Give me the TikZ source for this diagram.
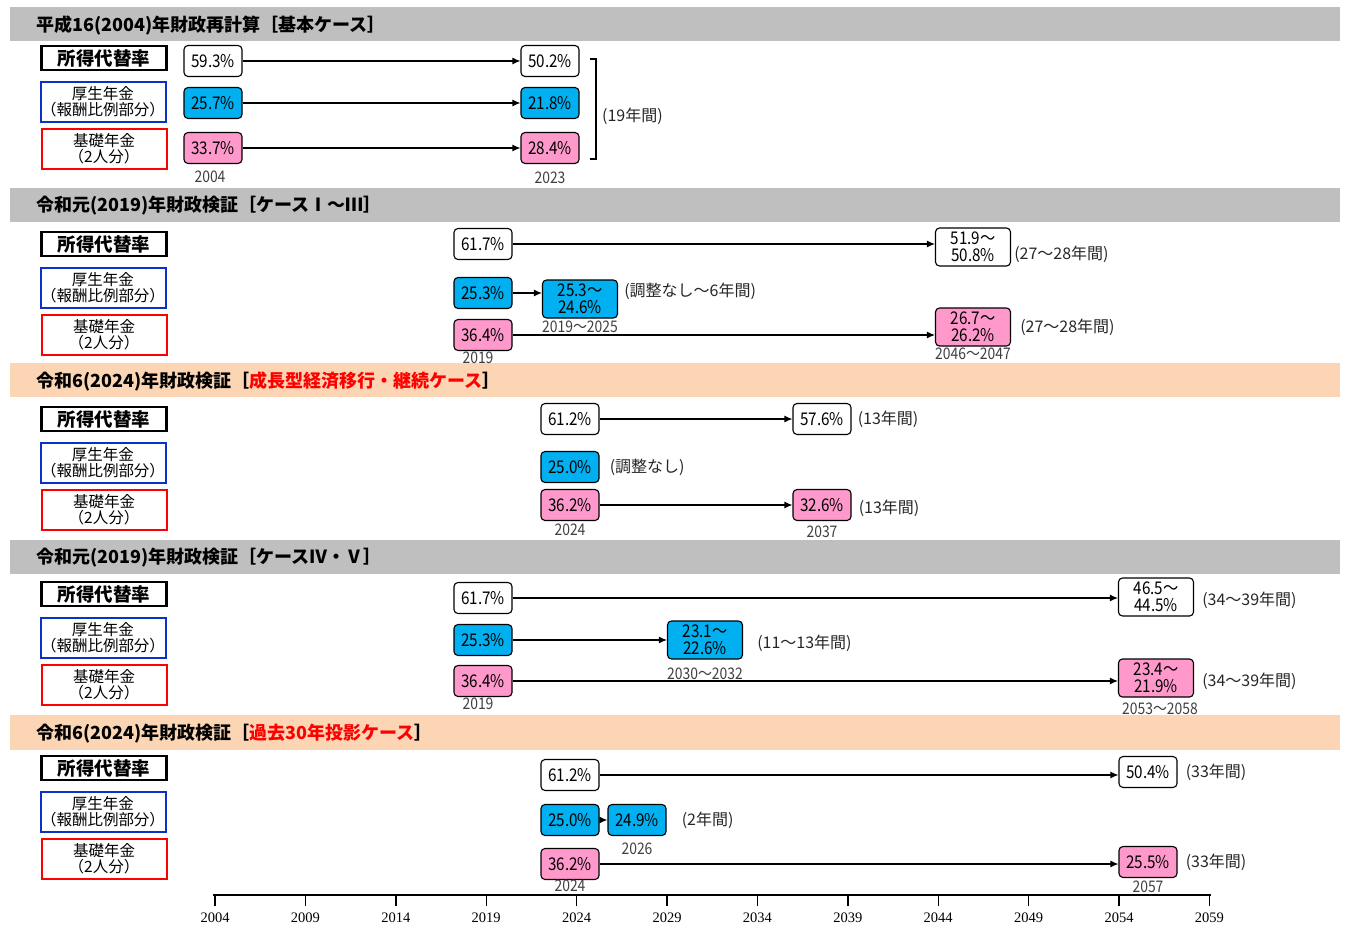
\documentclass[tikz,border=0pt]{standalone}
\usepackage{fontspec}
\setmainfont{Noto Sans CJK JP}
\newfontfamily\valfont{Noto Sans CJK JP}[FakeStretch=0.87]
\newfontfamily\axisfont{Liberation Serif}
\usepackage{tikz}
\usetikzlibrary{positioning,arrows.meta}
\definecolor{bandgray}{HTML}{BFBFBF}
\definecolor{bandpeach}{HTML}{FCD5B4}
\definecolor{koseiblue}{HTML}{00B0F0}
\definecolor{kisopink}{HTML}{FF99CC}
\definecolor{lblblue}{HTML}{0A32C8}
\definecolor{yeargray}{HTML}{404040}
\tikzset{
  line/.style={-{Latex[length=8pt,width=7pt]}, line width=1.2pt},
  title/.style={anchor=west, inner sep=0pt, font=\fontsize{18}{20}\selectfont\bfseries},
  lbl/.style={draw, align=center, inner sep=0pt, minimum width=125pt, font=\fontsize{15.5}{16}\selectfont},
  rlbl/.style={lbl, line width=2.4pt, minimum height=24pt, font=\fontsize{18.5}{19}\selectfont\bfseries},
  klbl/.style={lbl, draw=lblblue, line width=2pt, minimum height=40pt},
  blbl/.style={lbl, draw=red, line width=2pt, minimum height=40pt},
  val/.style={draw, rounded corners=4pt, line width=1.1pt, align=center, inner sep=1pt,
    minimum width=58pt, minimum height=31pt, font=\valfont\fontsize{17.5}{17}\selectfont},
  val2/.style={val, minimum width=75pt, minimum height=38pt},
  kv/.style={fill=koseiblue},
  bv/.style={fill=kisopink},
  note/.style={inner sep=0pt, text=black!85, font=\fontsize{16}{18}\selectfont},
  yr/.style={inner sep=0pt, text=yeargray, font=\valfont\fontsize{16}{16}\selectfont}
}

\begin{document}
\begin{tikzpicture}[x=1pt, y=-1pt]
  \useasboundingbox (0,0) rectangle (1347,929);

  % section bands and titles
  \fill[bandgray] (10,7) rectangle (1340,41);
  \fill[bandgray] (10,188) rectangle (1340,222);
  \fill[bandpeach] (10,363) rectangle (1340,397);
  \fill[bandgray] (10,540) rectangle (1340,574);
  \fill[bandpeach] (10,715) rectangle (1340,750);
  \node[title] (h1) at (36,25) {平成16(2004)年財政再計算［基本ケース］};
  \node[title] (h2) at (36,206) {令和元(2019)年財政検証［ケースⅠ～Ⅲ］};
  \node[title] (h3) at (36,381) {令和6(2024)年財政検証［\textcolor{red}{成長型経済移行・継続ケース}］};
  \node[title] (h4) at (36,558) {令和元(2019)年財政検証［ケースⅣ・Ⅴ］};
  \node[title] (h5) at (36,734) {令和6(2024)年財政検証［\textcolor{red}{過去30年投影ケース}］};

  % row labels
  \foreach \s/\y in {1/58, 2/244, 3/419, 4/594, 5/768} {
    \node[rlbl] (r\s) at (104,\y) {所得代替率};
    \node[klbl] (k\s) at (103,\y+44) {厚生年金\\（報酬比例部分）};
    \node[blbl] (b\s) at (104,\y+91) {基礎年金\\（2人分）};
  }

  % 2004
  \node[val] (r1a) at (213,61) {59.3\%};
  \node[val] (r1b) at (550,61) {50.2\%};
  \node[val, kv] (k1a) at (213,103) {25.7\%};
  \node[val, kv] (k1b) at (550,103) {21.8\%};
  \node[val, bv] (b1a) at (213,148) {33.7\%};
  \node[val, bv] (b1b) at (550,148) {28.4\%};
  \node[yr, below=7pt of b1a, xshift=-3pt] (y1a) {2004};
  \node[yr, below=8pt of b1b] (y1b) {2023};
  \draw[line] (r1a.east) -- (r1a.east -| r1b.west);
  \draw[line] (k1a.east) -- (k1a.east -| k1b.west);
  \draw[line] (b1a.east) -- (b1a.east -| b1b.west);
  \draw[line width=1.1pt] (590,59) -| (596,159) -- (590,159);
  \node[note, anchor=west] (n1) at (602,116) {(19年間)};

  % 2019 I-III
  \node[val] (r2a) at (483,244) {61.7\%};
  \node[val2] (r2b) at (973,247) {51.9～\\50.8\%};
  \node[val, kv] (k2a) at (483,293) {25.3\%};
  \node[val2, kv] (k2b) at (580,299) {25.3～\\24.6\%};
  \node[val, bv] (b2a) at (483,335) {36.4\%};
  \node[val2, bv] (b2b) at (973,327) {26.7～\\26.2\%};
  \draw[line] (r2a.east) -- (r2a.east -| r2b.west);
  \draw[line] (k2a.east) -- (k2a.east -| k2b.west);
  \draw[line] (b2a.east) -- (b2a.east -| b2b.west);
  \node[note, right=3pt of r2b, yshift=-7pt] (n2a) {(27～28年間)};
  \node[note, right=6pt of k2b, yshift=8pt] (n2b) {(調整なし～6年間)};
  \node[note, right=9pt of b2b] (n2c) {(27～28年間)};
  \node[yr, below=2pt of k2b] (y2a) {2019～2025};
  \node[yr, below=1pt of b2a, xshift=-5pt] (y2b) {2019};
  \node[yr, below=1pt of b2b] (y2c) {2046～2047};

  % 2024 growth
  \node[val] (r3a) at (570,419) {61.2\%};
  \node[val] (r3b) at (822,419) {57.6\%};
  \node[val, kv] (k3a) at (570,467) {25.0\%};
  \node[val, bv] (b3a) at (570,505) {36.2\%};
  \node[val, bv] (b3b) at (822,505) {32.6\%};
  \draw[line] (r3a.east) -- (r3a.east -| r3b.west);
  \draw[line] (b3a.east) -- (b3a.east -| b3b.west);
  \node[note, right=6pt of r3b] (n3a) {(13年間)};
  \node[note, right=10pt of k3a] (n3b) {(調整なし)};
  \node[note, right=7pt of b3b, yshift=-3pt] (n3c) {(13年間)};
  \node[yr, below=3pt of b3a] (y3a) {2024};
  \node[yr, below=5pt of b3b] (y3b) {2037};

  % 2019 IV-V
  \node[val] (r4a) at (483,598) {61.7\%};
  \node[val2] (r4b) at (1156,597) {46.5～\\44.5\%};
  \node[val, kv] (k4a) at (483,640) {25.3\%};
  \node[val2, kv] (k4b) at (705,640) {23.1～\\22.6\%};
  \node[val, bv] (b4a) at (483,681) {36.4\%};
  \node[val2, bv] (b4b) at (1156,678) {23.4～\\21.9\%};
  \draw[line] (r4a.east) -- (r4a.east -| r4b.west);
  \draw[line] (k4a.east) -- (k4a.east -| k4b.west);
  \draw[line] (b4a.east) -- (b4a.east -| b4b.west);
  \node[note, right=8pt of r4b, yshift=-3pt] (n4a) {(34～39年間)};
  \node[note, right=14pt of k4b, yshift=-3pt] (n4b) {(11～13年間)};
  \node[note, right=8pt of b4b, yshift=-3pt] (n4c) {(34～39年間)};
  \node[yr, below=8pt of k4b] (y4a) {2030～2032};
  \node[yr, below=1pt of b4a, xshift=-5pt] (y4b) {2019};
  \node[yr, below=5pt of b4b, xshift=4pt] (y4c) {2053～2058};

  % 2024 past 30 years
  \node[val] (r5a) at (570,775) {61.2\%};
  \node[val] (r5b) at (1148,772) {50.4\%};
  \node[val, kv] (k5a) at (570,820) {25.0\%};
  \node[val, kv] (k5b) at (637,820) {24.9\%};
  \node[val, bv] (b5a) at (570,864) {36.2\%};
  \node[val, bv] (b5b) at (1148,862) {25.5\%};
  \draw[line] (r5a.east) -- (r5a.east -| r5b.west);
  \draw[line] (k5a.east) -- (k5a.east -| k5b.west);
  \draw[line] (b5a.east) -- (b5a.east -| b5b.west);
  \node[note, right=8pt of r5b] (n5a) {(33年間)};
  \node[note, right=15pt of k5b] (n5b) {(2年間)};
  \node[note, right=8pt of b5b] (n5c) {(33年間)};
  \node[yr, below=7pt of k5b] (y5a) {2026};
  \node[yr, below=0pt of b5a] (y5b) {2024};
  \node[yr, below=3pt of b5b] (y5c) {2057};

  % year axis
  \draw[line width=1.6pt] (213,895) -- (1211,895);
  \foreach \yr [count=\i from 0] in {2004,2009,...,2059} {
    \draw[line width=1.4pt] (215+90.4*\i,895) -- ++(0,11);
    \node[font=\axisfont\fontsize{14.5}{15}\selectfont] (ax\yr) at (215+90.4*\i,918) {\yr};
  }
\end{tikzpicture}
\end{document}
